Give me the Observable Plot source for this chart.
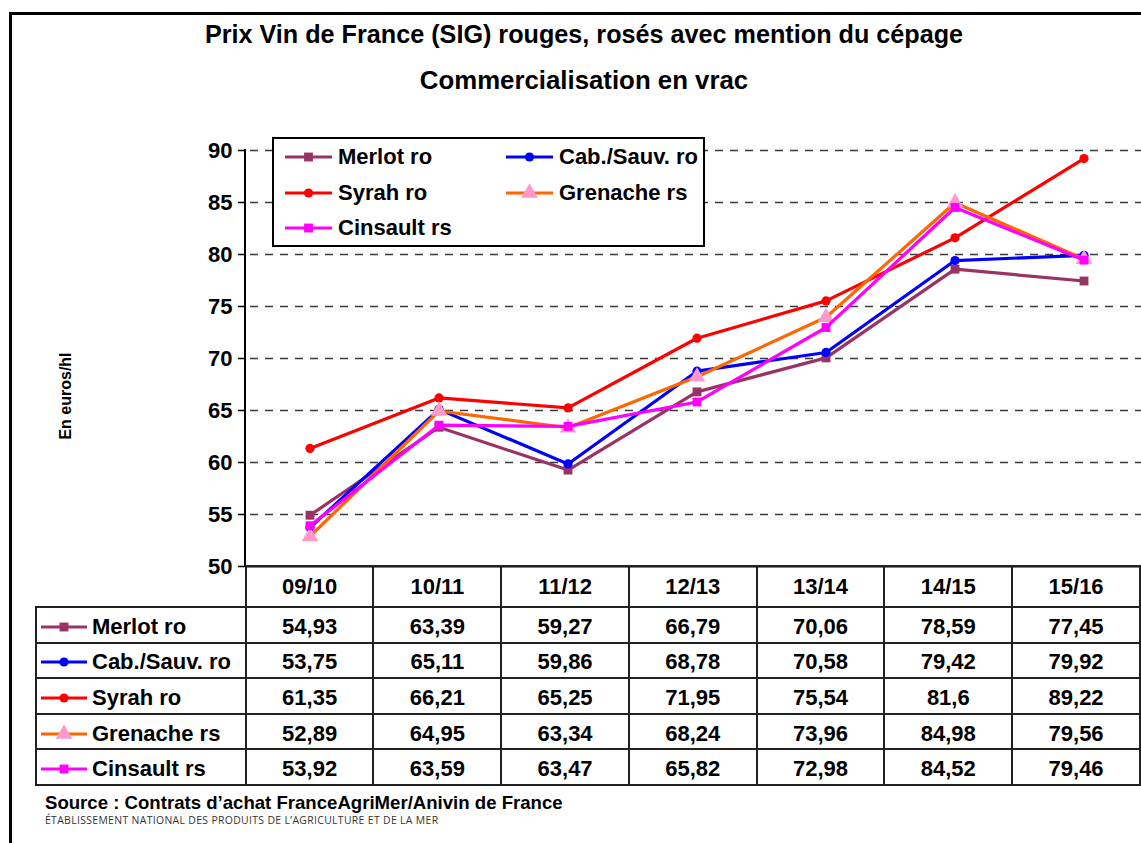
<!DOCTYPE html>
<html><head><meta charset="utf-8">
<script src="https://cdn.jsdelivr.net/npm/d3@7"></script>
<script src="https://cdn.jsdelivr.net/npm/@observablehq/plot@0.6"></script>
<style>
html,body{margin:0;padding:0;background:#fff;overflow:hidden}
#root{position:relative;width:1141px;height:843px;overflow:hidden;font-family:"Liberation Sans",Arial,sans-serif;color:#000;background:#fff}
.abs{position:absolute}
#frame{left:9px;top:12px;width:1300px;height:1000px;border-left:3px solid #000;border-top:3px solid #000;box-sizing:border-box}
.title{left:0;width:1168px;text-align:center;font-weight:bold;white-space:nowrap}
#ylab{left:66px;top:396px;transform:translate(-50%,-50%) rotate(-90deg);font-weight:bold;font-size:16px;white-space:nowrap}
#yaxisline{left:244px;top:149px;width:2px;height:418px;background:#000}
#legend{left:272px;top:137px;width:433px;height:110px;border:2px solid #000;background:#fff;box-sizing:border-box}
.litem{position:absolute;display:flex;align-items:center;height:30px;font-weight:bold;font-size:22px;white-space:nowrap}
.litem svg{margin-right:6px}
#dt{position:absolute;left:35px;top:565px;border-collapse:collapse;table-layout:fixed;font-weight:bold;font-size:22px}
#dt td{border:2px solid #222;padding:0;text-align:center;vertical-align:middle;white-space:nowrap;overflow:hidden}
#dt td.blank{border:none}
#dt tr.hdr td{height:39px}
#dt tr.row td{height:29.6px;padding-top:4px}
#dt td.lab{text-align:left;padding-left:4px}
#dt td.lab div{display:flex;align-items:center;height:29.6px}
#dt td.lab svg{margin-right:5px;flex:none}
#src{left:45px;top:795px;font-weight:bold;font-size:18.6px;line-height:16px;white-space:nowrap}
#src2{left:45px;top:816px;font-family:"Open Sans","Noto Sans",sans-serif;font-size:10.4px;line-height:8px;letter-spacing:0.35px;color:#333;white-space:nowrap}
</style></head>
<body>
<div id="root">
  <div id="frame" class="abs"></div>
</div>
<script>
// ---- data ----
const categories = ["09/10","10/11","11/12","12/13","13/14","14/15","15/16"];
const seriesNames = ["Merlot ro","Cab./Sauv. ro","Syrah ro","Grenache rs","Cinsault rs"];
const merlotRo   = [54.93, 63.39, 59.27, 66.79, 70.06, 78.59, 77.45];
const cabSauvRo  = [53.75, 65.11, 59.86, 68.78, 70.58, 79.42, 79.92];
const syrahRo    = [61.35, 66.21, 65.25, 71.95, 75.54, 81.6, 89.22];
const grenacheRs = [52.89, 64.95, 63.34, 68.24, 73.96, 84.98, 79.56];
const cinsaultRs = [53.92, 63.59, 63.47, 65.82, 72.98, 84.52, 79.46];
const yTicks = [50, 55, 60, 65, 70, 75, 80, 85, 90];
const titleText = "Prix Vin de France (SIG) rouges, rosés avec mention du cépage";
const subtitleText = "Commercialisation en vrac";
const yLabel = "En euros/hl";
const sourceText = "Source : Contrats d\u2019achat FranceAgriMer/Anivin de France";
const source2Text = "ÉTABLISSEMENT NATIONAL DES PRODUITS DE L\u2019AGRICULTURE ET DE LA MER";

// ---- styles ----
const seriesValues = [merlotRo, cabSauvRo, syrahRo, grenacheRs, cinsaultRs];
const lineColors = ["#993366", "#0000FF", "#FF0000", "#FF6600", "#FF00FF"];
const markerColors = ["#993366", "#0000FF", "#FF0000", "#FF99CC", "#FF00FF"];
const markerSymbols = ["square", "circle", "circle", "triangle", "square"];
const markerR = [5, 4.6, 4.6, 6.2, 5];

const rows = seriesNames.flatMap((s, i) => seriesValues[i].map((v, j) => ({series: s, idx: i, cat: categories[j], value: v})));
const fmt = v => String(v).replace(".", ",");

const root = d3.select("#root");

const seriesMarks = seriesNames.flatMap((s, i) => {
  const d = rows.filter(r => r.idx === i);
  return [
    Plot.line(d, {x: "cat", y: "value", stroke: lineColors[i], strokeWidth: 3.2}),
    Plot.dot(d, {x: "cat", y: "value", symbol: markerSymbols[i], r: markerR[i], fill: markerColors[i], stroke: "none"})
  ];
});

const chart = Plot.plot({
  width: 1141,
  height: 843,
  marginLeft: 245,
  marginRight: 0,
  marginTop: 150,
  marginBottom: 277,
  style: {background: "transparent", overflow: "visible", fontFamily: "Liberation Sans, Arial, sans-serif"},
  x: {type: "band", domain: categories, range: [245, 1148], padding: 0, axis: null},
  y: {domain: [50, 90], axis: null},
  marks: [
    Plot.ruleY(yTicks.filter(t => t > 50), {stroke: "#3a3a3a", strokeWidth: 1.3, strokeDasharray: "8,7", strokeDashoffset: 10}),
    Plot.ruleY([50], {stroke: "#000", strokeWidth: 2}),
    Plot.axisY({ticks: yTicks, tickSize: 7, tickPadding: 6, tickFormat: d => String(d), fontSize: 22, fontWeight: "bold", label: null, stroke: "#000", strokeWidth: 1.5, fill: "#000"}),
    ...seriesMarks
  ]
});
d3.select(chart).style("position", "absolute").style("left", "0px").style("top", "0px");
root.node().appendChild(chart);

root.append("div").attr("id", "yaxisline").attr("class", "abs");

// titles
root.append("div").attr("class", "abs title").style("top", "22px").style("font-size", "25.2px").style("line-height", "25px").text(titleText);
root.append("div").attr("class", "abs title").style("top", "67.5px").style("font-size", "25.8px").style("line-height", "25px").text(subtitleText);
root.append("div").attr("id", "ylab").attr("class", "abs").text(yLabel);

// swatch helper
function swatch(parent, i, w) {
  const svg = parent.append("svg").attr("width", w).attr("height", 20);
  svg.append("line").attr("x1", 0).attr("x2", w).attr("y1", 10).attr("y2", 10)
    .attr("stroke", lineColors[i]).attr("stroke-width", 3.2);
  const symMap = {square: d3.symbolSquare, circle: d3.symbolCircle, triangle: d3.symbolTriangle};
  svg.append("path")
    .attr("d", d3.symbol(symMap[markerSymbols[i]], Math.PI * markerR[i] * markerR[i])())
    .attr("transform", `translate(${w / 2},10)`)
    .attr("fill", markerColors[i]);
}

// legend
const legend = root.append("div").attr("id", "legend").attr("class", "abs");
seriesNames.forEach((s, i) => {
  const col = i % 2, row = Math.floor(i / 2);
  const item = legend.append("div").attr("class", "litem")
    .style("left", (11 + col * 221) + "px")
    .style("top", (3 + row * 35.5) + "px");
  swatch(item, i, 47);
  item.append("span").text(s);
});

// data table
const table = root.append("table").attr("id", "dt");
const cg = table.append("colgroup");
cg.append("col").style("width", "210px");
categories.forEach(() => cg.append("col").style("width", "129px"));
const hdr = table.append("tr").attr("class", "hdr");
hdr.append("td").attr("class", "blank");
categories.forEach(c => hdr.append("td").text(c));
seriesNames.forEach((s, i) => {
  const tr = table.append("tr").attr("class", "row");
  const lab = tr.append("td").attr("class", "lab").append("div");
  swatch(lab, i, 46);
  lab.append("span").text(s);
  seriesValues[i].forEach(v => tr.append("td").text(fmt(v)));
});

// source
root.append("div").attr("id", "src").attr("class", "abs").text(sourceText);
root.append("div").attr("id", "src2").attr("class", "abs").text(source2Text);
</script>
</body></html>
